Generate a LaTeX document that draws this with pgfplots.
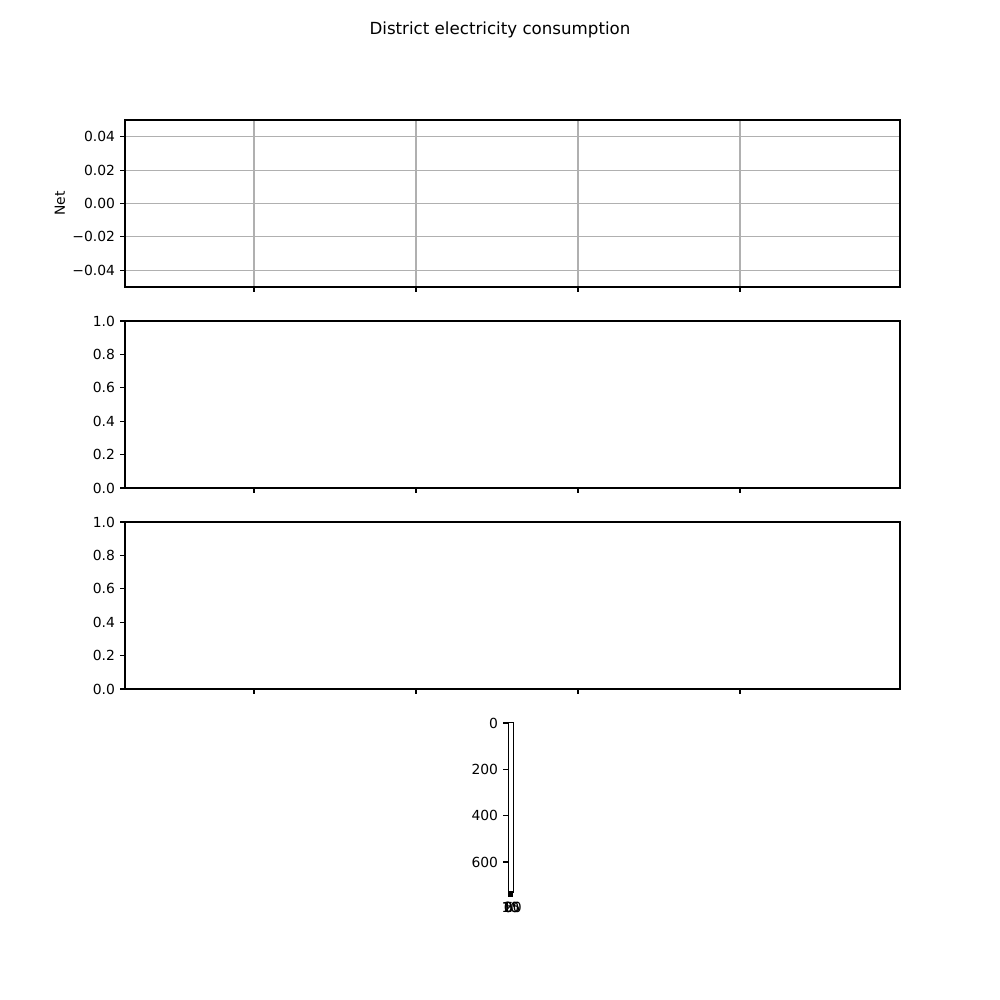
\documentclass[border=0pt]{standalone}
\usepackage{fontspec}
\setmainfont{DejaVu Sans}
\usepackage{pgfplots}
\pgfplotsset{compat=1.18}
\begin{document}
\fontsize{10}{12}\selectfont
\begin{tikzpicture}[font=\fontsize{10}{12}\selectfont]
\path[use as bounding box] (0pt,0pt) rectangle (720pt,720pt);
\pgfplotsset{
  mplbase/.style={
    scale only axis, anchor=south west,
    axis line style={line width=0.8pt, black},
    tick align=outside, major tick length=3.5pt,
    xtick style={black, line width=0.8pt},
    ytick style={black, line width=0.8pt},
    xtick pos=bottom, ytick pos=left,
    scaled ticks=false,
    /pgf/number format/assume math mode=true,
    tick label style={font=\fontsize{10}{12}\selectfont},
    yticklabel style={inner sep=0pt, xshift=-3.5pt},
    xticklabel style={inner sep=0pt, yshift=-3.5pt},
  },
  mpltop/.style={
    mplbase, width=558pt, height=120.24pt,
    xmin=0, xmax=775, xtick={129,291,453,615}, xticklabels={},
  }
}
% axis 1
\begin{axis}[mpltop, at={(90pt,513.36pt)},
  ymin=-0.05, ymax=0.05,
  ytick={-0.04,-0.02,0,0.02,0.04},
  yticklabels={−0.04,−0.02,0.00,0.02,0.04},
  xmajorgrids, ymajorgrids,
  major grid style={color=black!31, line width=0.8pt}]
\addplot[draw=none] coordinates {(0,0)};
\end{axis}
% axis 2
\begin{axis}[mpltop, at={(90pt,368.64pt)},
  ymin=0, ymax=1,
  ytick={0,0.2,0.4,0.6,0.8,1},
  yticklabels={0.0,0.2,0.4,0.6,0.8,1.0}]
\addplot[draw=none] coordinates {(0,0)};
\end{axis}
% axis 3
\begin{axis}[mpltop, at={(90pt,223.92pt)},
  ymin=0, ymax=1,
  ytick={0,0.2,0.4,0.6,0.8,1},
  yticklabels={0.0,0.2,0.4,0.6,0.8,1.0}]
\addplot[draw=none] coordinates {(0,0)};
\end{axis}
% tiny image axis
\begin{axis}[mplbase, at={(365.8pt,77.76pt)},
  width=4.0pt, height=121.8pt,
  xmin=-0.5, xmax=23.5, ymin=-0.5, ymax=729.5, y dir=reverse,
  xtick={0,5,10,15,20}, xticklabels={0,5,10,15,20},
  ytick={0,200,400,600}, yticklabels={0,200,400,600}]
\addplot[draw=none] coordinates {(0,0)};
\end{axis}
\node[font=\fontsize{12}{14}\selectfont] at (360pt,698.4pt) {District electricity consumption};
\node[rotate=90] at (43.2pt,573.48pt) {Net};
\end{tikzpicture}
\end{document}
